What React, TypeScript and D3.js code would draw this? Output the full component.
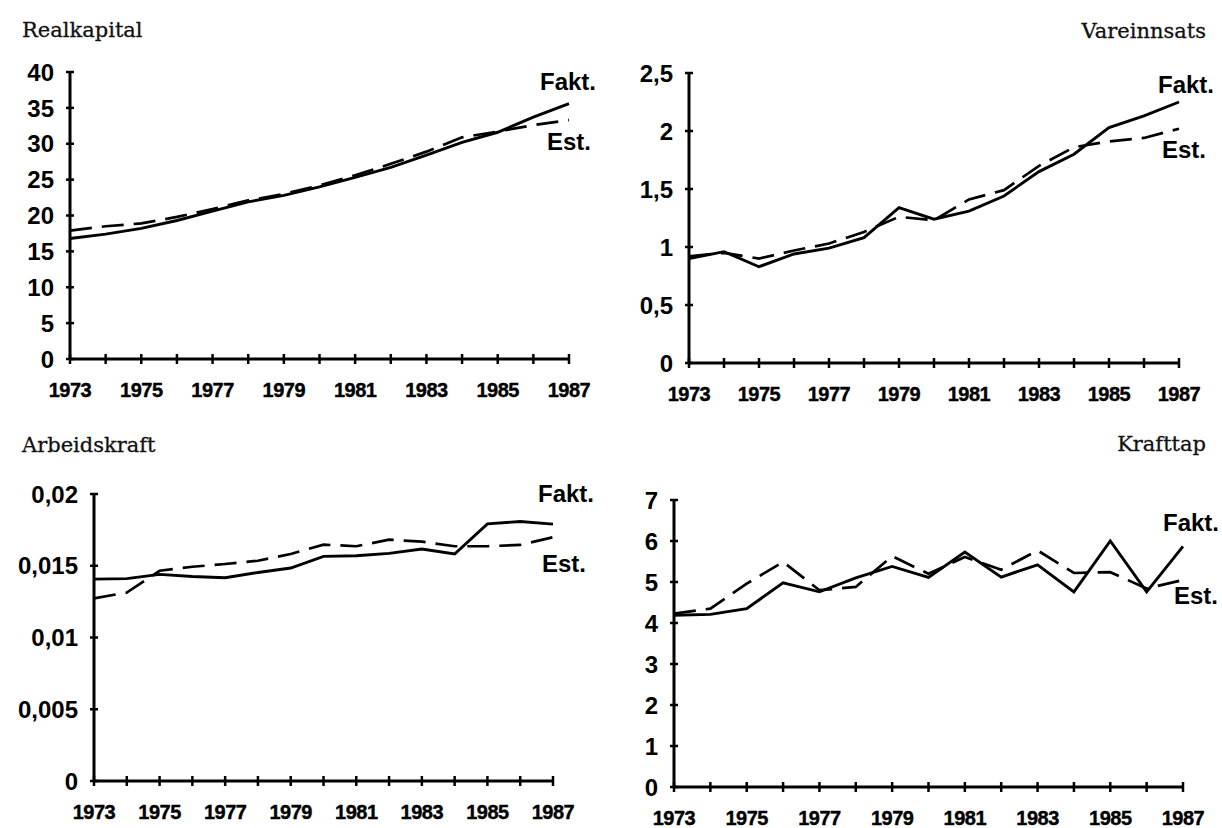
import React from "react";
import * as d3 from "d3";

const years = [1973, 1974, 1975, 1976, 1977, 1978, 1979, 1980, 1981, 1982, 1983, 1984, 1985, 1986, 1987];
const yearLabels = [1973, 1975, 1977, 1979, 1981, 1983, 1985, 1987];

const realFakt = [16.8, 17.4, 18.2, 19.3, 20.6, 21.9, 22.8, 24.0, 25.3, 26.7, 28.4, 30.2, 31.6, 33.7, 35.6];
const realEst = [17.9, 18.5, 18.9, 19.8, 20.9, 22.1, 23.0, 24.2, 25.6, 27.2, 28.9, 30.9, 31.7, 32.6, 33.3];
const realTicks = [0, 5, 10, 15, 20, 25, 30, 35, 40];

const vareFakt = [0.9, 0.96, 0.83, 0.94, 0.99, 1.08, 1.34, 1.24, 1.31, 1.44, 1.65, 1.8, 2.03, 2.13, 2.25];
const vareEst = [0.92, 0.95, 0.9, 0.97, 1.03, 1.13, 1.26, 1.23, 1.41, 1.49, 1.7, 1.86, 1.91, 1.94, 2.02];
const vareTicks = [0, 0.5, 1, 1.5, 2, 2.5];

const arbFakt = [0.01407, 0.0141, 0.0144, 0.01425, 0.01416, 0.01453, 0.01484, 0.01565, 0.0157, 0.01586, 0.01617, 0.01582, 0.01792, 0.01808, 0.0179];
const arbEst = [0.01273, 0.01313, 0.01465, 0.01493, 0.01512, 0.01535, 0.01582, 0.01647, 0.01636, 0.01682, 0.01668, 0.01636, 0.01636, 0.01645, 0.01699];
const arbTicks = [0, 0.005, 0.01, 0.015, 0.02];

const kraftFakt = [4.19, 4.21, 4.35, 4.98, 4.76, 5.1, 5.38, 5.11, 5.73, 5.12, 5.42, 4.76, 6.0, 4.76, 5.87];
const kraftEst = [4.23, 4.35, 4.96, 5.49, 4.8, 4.88, 5.63, 5.2, 5.61, 5.3, 5.77, 5.22, 5.24, 4.84, 5.05];
const kraftTicks = [0, 1, 2, 3, 4, 5, 6, 7];

const fmt = (v: number) => String(+v.toFixed(4)).replace(".", ",");

type PanelProps = {
  title: string;
  titleAnchor: "start" | "end";
  titleX: number;
  titleY: number;
  x0: number;
  x1: number;
  yTop: number;
  yBot: number;
  yMax: number;
  ticks: number[];
  fakt: number[];
  est: number[];
  faktX: number;
  faktY: number;
  estX: number;
  estY: number;
};

const Panel = (p: PanelProps) => {
  const x = d3.scaleLinear().domain([1973, 1987]).range([p.x0, p.x1]);
  const y = d3.scaleLinear().domain([0, p.yMax]).range([p.yBot, p.yTop]);
  const line = d3
    .line<number>()
    .x((_, i) => x(years[i]))
    .y((d) => y(d));
  return (
    <g>
      <text
        x={p.titleX}
        y={p.titleY}
        textAnchor={p.titleAnchor}
        fontFamily="'DejaVu Serif', serif"
        fontSize={21}
        fill="#111"
        stroke="#111"
        strokeWidth={0.3}
      >
        {p.title}
      </text>
      <line x1={p.x0} x2={p.x0} y1={p.yTop} y2={p.yBot} stroke="#000" strokeWidth={3} />
      <line x1={p.x0} x2={p.x1} y1={p.yBot} y2={p.yBot} stroke="#000" strokeWidth={3} />
      {p.ticks.map((t) => (
        <g key={"y" + t}>
          <line x1={p.x0 - 4} x2={p.x0 + 4} y1={y(t)} y2={y(t)} stroke="#000" strokeWidth={2.5} />
          <text
            x={p.x0 - 16}
            y={y(t)}
            dy="0.36em"
            textAnchor="end"
            fontFamily="'Liberation Sans', Arial, sans-serif"
            fontWeight="bold"
            fontSize={24}
            fill="#000"
          >
            {fmt(t)}
          </text>
        </g>
      ))}
      {years.map((yr) => (
        <line key={"x" + yr} x1={x(yr)} x2={x(yr)} y1={p.yBot - 5} y2={p.yBot + 5} stroke="#000" strokeWidth={2.5} />
      ))}
      {yearLabels.map((yr) => (
        <text
          key={"xl" + yr}
          x={x(yr)}
          y={p.yBot + 38}
          textAnchor="middle"
          fontFamily="'Liberation Sans', Arial, sans-serif"
          fontWeight="bold"
          fontSize={20}
          letterSpacing={-0.5}
          fill="#000"
          stroke="#000"
          strokeWidth={0.4}
        >
          {yr}
        </text>
      ))}
      <path d={line(p.est) || ""} fill="none" stroke="#000" strokeWidth={2.7} strokeDasharray="22 10" />
      <path d={line(p.fakt) || ""} fill="none" stroke="#000" strokeWidth={2.9} strokeLinejoin="miter" />
      <text
        x={p.faktX}
        y={p.faktY}
        textAnchor="end"
        fontFamily="'Liberation Sans', Arial, sans-serif"
        fontWeight="bold"
        fontSize={24}
        fill="#000"
      >
        Fakt.
      </text>
      <text
        x={p.estX}
        y={p.estY}
        textAnchor="end"
        fontFamily="'Liberation Sans', Arial, sans-serif"
        fontWeight="bold"
        fontSize={24}
        fill="#000"
      >
        Est.
      </text>
    </g>
  );
};

export default function App() {
  return (
    <svg
      width={1222}
      height={828}
      viewBox="0 0 1222 828"
      style={{ position: "absolute", left: 0, top: 0, background: "#fff" }}
    >
      <rect width={1222} height={828} fill="#fff" />
      <Panel
        title="Realkapital"
        titleAnchor="start"
        titleX={22}
        titleY={37}
        x0={70}
        x1={569}
        yTop={72}
        yBot={359}
        yMax={40}
        ticks={realTicks}
        fakt={realFakt}
        est={realEst}
        faktX={596}
        faktY={90}
        estX={591}
        estY={150}
      />
      <Panel
        title="Vareinnsats"
        titleAnchor="end"
        titleX={1206}
        titleY={38}
        x0={689}
        x1={1179}
        yTop={73}
        yBot={363}
        yMax={2.5}
        ticks={vareTicks}
        fakt={vareFakt}
        est={vareEst}
        faktX={1214}
        faktY={93}
        estX={1206}
        estY={158}
      />
      <Panel
        title="Arbeidskraft"
        titleAnchor="start"
        titleX={22}
        titleY={452}
        x0={94}
        x1={553}
        yTop={494}
        yBot={781}
        yMax={0.02}
        ticks={arbTicks}
        fakt={arbFakt}
        est={arbEst}
        faktX={594}
        faktY={502}
        estX={586}
        estY={572}
      />
      <Panel
        title="Krafttap"
        titleAnchor="end"
        titleX={1206}
        titleY={451}
        x0={674}
        x1={1183}
        yTop={500}
        yBot={787}
        yMax={7}
        ticks={kraftTicks}
        fakt={kraftFakt}
        est={kraftEst}
        faktX={1219}
        faktY={531}
        estX={1218}
        estY={604}
      />
    </svg>
  );
}
